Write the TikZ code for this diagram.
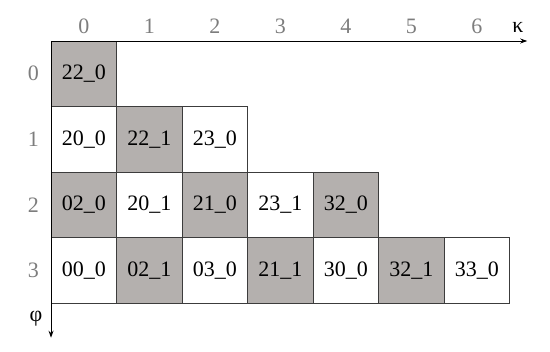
\documentclass[tikz,border=0pt]{standalone}
\usepackage{fontspec}
\setmainfont{Liberation Serif}
\usepackage{xcolor}
\usetikzlibrary{arrows.meta}

\definecolor{cellgray}{RGB}{180,176,174}
\definecolor{edgegray}{RGB}{60,60,60}
\definecolor{idxgray}{RGB}{125,125,125}

\begin{document}
\begin{tikzpicture}[x=65.5pt,y=65.5pt,
    font=\fontsize{22}{26}\selectfont,
    cellw/.style={draw=edgegray,line width=0.9pt,fill=white,minimum size=65.5pt,inner sep=0pt},
    cellg/.style={cellw,fill=cellgray},
    idx/.style={text=idxgray,inner sep=0pt},
    axis/.style={black,line width=1pt,-{Stealth[length=7pt,width=5pt]}}]
    \useasboundingbox (-0.779,0.626) rectangle (7.618,-4.748);

    % row 0
    \node[cellg] (c00) at (0.5,-0.5) {22\_0};
    % row 1
    \node[cellw] (c10) at (0.5,-1.5) {20\_0};
    \node[cellg] (c11) at (1.5,-1.5) {22\_1};
    \node[cellw] (c12) at (2.5,-1.5) {23\_0};
    % row 2
    \node[cellg] (c20) at (0.5,-2.5) {02\_0};
    \node[cellw] (c21) at (1.5,-2.5) {20\_1};
    \node[cellg] (c22) at (2.5,-2.5) {21\_0};
    \node[cellw] (c23) at (3.5,-2.5) {23\_1};
    \node[cellg] (c24) at (4.5,-2.5) {32\_0};
    % row 3
    \node[cellw] (c30) at (0.5,-3.5) {00\_0};
    \node[cellg] (c31) at (1.5,-3.5) {02\_1};
    \node[cellw] (c32) at (2.5,-3.5) {03\_0};
    \node[cellg] (c33) at (3.5,-3.5) {21\_1};
    \node[cellw] (c34) at (4.5,-3.5) {30\_0};
    \node[cellg] (c35) at (5.5,-3.5) {32\_1};
    \node[cellw] (c36) at (6.5,-3.5) {33\_0};

    % column and row numbers
    \node[idx] (k0) at (0.5,0.23) {0};
    \node[idx] (k1) at (1.5,0.23) {1};
    \node[idx] (k2) at (2.5,0.23) {2};
    \node[idx] (k3) at (3.5,0.23) {3};
    \node[idx] (k4) at (4.5,0.23) {4};
    \node[idx] (k5) at (5.5,0.23) {5};
    \node[idx] (k6) at (6.5,0.23) {6};
    \node[idx] (p0) at (-0.27,-0.5) {0};
    \node[idx] (p1) at (-0.27,-1.5) {1};
    \node[idx] (p2) at (-0.27,-2.5) {2};
    \node[idx] (p3) at (-0.27,-3.5) {3};

    % axes
    \coordinate (o) at (0,0);
    \coordinate (kend) at (7.27,0);
    \coordinate (pend) at (0,-4.53);
    \draw[axis] (o) -- (kend);
    \draw[axis] (o) -- (pend);
    \node (kappa) at (7.13,0.21) {κ};
    \node (phi) at (-0.23,-4.24) {φ};
\end{tikzpicture}
\end{document}
